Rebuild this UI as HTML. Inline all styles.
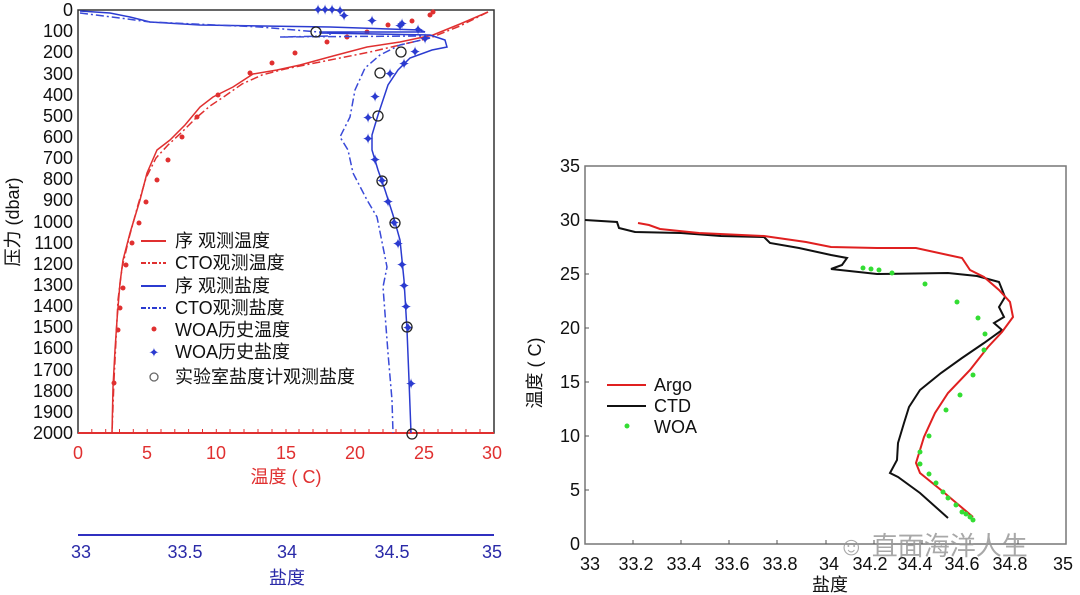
<!DOCTYPE html>
<html><head><meta charset="utf-8"><style>
body{margin:0;background:#fff;}
svg{display:block;font-family:"Liberation Sans","Noto Sans CJK SC",sans-serif;}
</style></head><body>
<svg width="1080" height="595" viewBox="0 0 1080 595" xmlns="http://www.w3.org/2000/svg">
<!-- LEFT PLOT -->
<rect x="78" y="10" width="416" height="423" fill="none" stroke="#333" stroke-width="1.5"/>
<line x1="78" y1="433" x2="494" y2="433" stroke="#e03030" stroke-width="2"/>
<g stroke="#e03030" stroke-width="1">
<line x1="91.8" y1="433" x2="91.8" y2="429"/><line x1="105.7" y1="433" x2="105.7" y2="429"/><line x1="119.5" y1="433" x2="119.5" y2="429"/><line x1="133.3" y1="433" x2="133.3" y2="429"/><line x1="147.2" y1="433" x2="147.2" y2="429"/><line x1="161" y1="433" x2="161" y2="429"/><line x1="174.8" y1="433" x2="174.8" y2="429"/><line x1="188.6" y1="433" x2="188.6" y2="429"/><line x1="202.5" y1="433" x2="202.5" y2="429"/><line x1="216.3" y1="433" x2="216.3" y2="429"/><line x1="230" y1="433" x2="230" y2="429"/><line x1="244" y1="433" x2="244" y2="429"/><line x1="258" y1="433" x2="258" y2="429"/><line x1="272" y1="433" x2="272" y2="429"/><line x1="286" y1="433" x2="286" y2="429"/><line x1="299" y1="433" x2="299" y2="429"/><line x1="313" y1="433" x2="313" y2="429"/><line x1="327" y1="433" x2="327" y2="429"/><line x1="341" y1="433" x2="341" y2="429"/><line x1="355" y1="433" x2="355" y2="429"/><line x1="369" y1="433" x2="369" y2="429"/><line x1="383" y1="433" x2="383" y2="429"/><line x1="396" y1="433" x2="396" y2="429"/><line x1="410" y1="433" x2="410" y2="429"/><line x1="424" y1="433" x2="424" y2="429"/><line x1="438" y1="433" x2="438" y2="429"/><line x1="452" y1="433" x2="452" y2="429"/><line x1="466" y1="433" x2="466" y2="429"/><line x1="480" y1="433" x2="480" y2="429"/>
</g>
<g font-size="18" fill="#111" text-anchor="end">
<text x="73" y="16">0</text><text x="73" y="37">100</text><text x="73" y="58">200</text><text x="73" y="80">300</text><text x="73" y="101">400</text><text x="73" y="122">500</text><text x="73" y="143">600</text><text x="73" y="164">700</text><text x="73" y="185">800</text><text x="73" y="206">900</text><text x="73" y="228">1000</text><text x="73" y="249">1100</text><text x="73" y="270">1200</text><text x="73" y="291">1300</text><text x="73" y="312">1400</text><text x="73" y="333">1500</text><text x="73" y="354">1600</text><text x="73" y="376">1700</text><text x="73" y="397">1800</text><text x="73" y="418">1900</text><text x="73" y="439">2000</text>
</g>
<text transform="translate(19,222) rotate(-90)" font-size="18" fill="#111" text-anchor="middle">压力 (dbar)</text>
<g font-size="18" fill="#e03030" text-anchor="middle">
<text x="78" y="459">0</text><text x="147" y="459">5</text><text x="216" y="459">10</text><text x="286" y="459">15</text><text x="355" y="459">20</text><text x="424" y="459">25</text><text x="492" y="459">30</text>
<text x="286" y="483">温度 ( C)</text>
</g>
<!-- salinity axis -->
<line x1="78" y1="535" x2="494" y2="535" stroke="#3030c0" stroke-width="2"/>
<g font-size="18" fill="#2a2aa8" text-anchor="middle">
<text x="81" y="558">33</text><text x="185" y="558">33.5</text><text x="287" y="558">34</text><text x="392" y="558">34.5</text><text x="492" y="558">35</text>
<text x="287" y="584">盐度</text>
</g>
<!-- temperature curves -->
<polyline fill="none" stroke="#e03030" stroke-width="1.5" points="488,12 460,24 433,35 400,42 367,47 333,56 300,65 277,70 253,74 233,87 213,97 200,107 185,125 170,140 157,150 147,173 140,200 130,233 123,260 120,283 117,320 115,350 113,387 112,433"/>
<polyline fill="none" stroke="#e03030" stroke-width="1.5" stroke-dasharray="8,3,2,3" points="488,12 460,26 430,38 400,45 370,52 340,58 310,64 285,69 262,75 242,84 225,96 210,106 196,118 182,132 168,145 156,158 146,178 138,205 129,238 122,268 118,300 116,340 114,380 112,433"/>
<g fill="#e03030">
<circle cx="433" cy="12" r="2.5"/><circle cx="430" cy="15" r="2.5"/><circle cx="412" cy="21" r="2.5"/><circle cx="388" cy="25" r="2.5"/><circle cx="367" cy="32" r="2.5"/><circle cx="347" cy="37" r="2.5"/><circle cx="327" cy="42" r="2.5"/><circle cx="295" cy="53" r="2.5"/><circle cx="272" cy="63" r="2.5"/><circle cx="250" cy="73" r="2.5"/><circle cx="218" cy="95" r="2.5"/><circle cx="197" cy="117" r="2.5"/><circle cx="182" cy="137" r="2.5"/><circle cx="168" cy="160" r="2.5"/><circle cx="157" cy="180" r="2.5"/><circle cx="146" cy="202" r="2.5"/><circle cx="139" cy="223" r="2.5"/><circle cx="132" cy="243" r="2.5"/><circle cx="126" cy="265" r="2.5"/><circle cx="123" cy="288" r="2.5"/><circle cx="120" cy="308" r="2.5"/><circle cx="118" cy="330" r="2.5"/><circle cx="114" cy="383" r="2.5"/>
</g>
<!-- salinity curves -->
<polyline fill="none" stroke="#2b3bd0" stroke-width="1.5" points="80,11 110,13 130,17 150,22 200,25 330,27 420,30 425,32 320,32 320,33 430,35 445,40 447,47 432,50 410,58 398,70 388,85 383,100 378,115 372,135 372,150 378,170 385,190 393,215 400,240 404,280 407,330 409,380 411,433"/>
<polyline fill="none" stroke="#3a4ad8" stroke-width="1.5" stroke-dasharray="8,3,2,3" points="80,13 120,18 150,22 260,27 330,33 330,36 280,37 420,36 430,38 400,45 380,55 365,68 355,90 350,117 340,137 348,150 353,173 367,200 377,217 387,267 383,287 388,353 392,400 393,433"/>
<g fill="#2b3bd0" font-size="15" text-anchor="middle">
<text x="318" y="15">✦</text><text x="325" y="15">✦</text><text x="332" y="15">✦</text><text x="340" y="16">✦</text><text x="344" y="21">✦</text><text x="372" y="26">✦</text><text x="402" y="29">✦</text><text x="400" y="31">✦</text><text x="418" y="35">✦</text><text x="425" y="44">✦</text><text x="415" y="57">✦</text><text x="404" y="69">✦</text><text x="390" y="79">✦</text><text x="375" y="102">✦</text><text x="368" y="123">✦</text><text x="368" y="144">✦</text><text x="375" y="165">✦</text><text x="382" y="186">✦</text><text x="388" y="207">✦</text><text x="394" y="228">✦</text><text x="398" y="249">✦</text><text x="402" y="270">✦</text><text x="404" y="291">✦</text><text x="406" y="312">✦</text><text x="408" y="333">✦</text><text x="411" y="389">✦</text>
</g>
<g fill="none" stroke="#222" stroke-width="1.3">
<circle cx="316" cy="32" r="5"/><circle cx="401" cy="52" r="5"/><circle cx="380" cy="73" r="5"/><circle cx="378" cy="116" r="5"/><circle cx="382" cy="181" r="5"/><circle cx="395" cy="223" r="5"/><circle cx="407" cy="327" r="5"/><circle cx="412" cy="434" r="5"/>
</g>
<!-- left legend -->
<g font-size="18" fill="#111">
<line x1="141" y1="241" x2="166" y2="241" stroke="#e03030" stroke-width="2"/><text x="175" y="247">序  观测温度</text>
<line x1="141" y1="263" x2="166" y2="263" stroke="#e03030" stroke-width="2" stroke-dasharray="5,2,2,2"/><text x="175" y="269">CTO观测温度</text>
<line x1="141" y1="286" x2="166" y2="286" stroke="#2b3bd0" stroke-width="2"/><text x="175" y="292">序  观测盐度</text>
<line x1="141" y1="308" x2="166" y2="308" stroke="#2b3bd0" stroke-width="2" stroke-dasharray="5,2,2,2"/><text x="175" y="314">CTO观测盐度</text>
<circle cx="154" cy="329" r="2.5" fill="#e03030"/><text x="175" y="336">WOA历史温度</text>
<text x="154" y="357" fill="#2b3bd0" font-size="13" text-anchor="middle">✦</text><text x="175" y="358">WOA历史盐度</text>
<circle cx="154" cy="377" r="4" fill="none" stroke="#666" stroke-width="1.3"/><text x="175" y="383">实验室盐度计观测盐度</text>
</g>

<!-- RIGHT PLOT -->
<rect x="585" y="166" width="481" height="378" fill="none" stroke="#777" stroke-width="1.5"/>
<g stroke="#555" stroke-width="1">
<line x1="633" y1="544" x2="633" y2="540"/><line x1="681" y1="544" x2="681" y2="540"/><line x1="729" y1="544" x2="729" y2="540"/><line x1="777" y1="544" x2="777" y2="540"/><line x1="826" y1="544" x2="826" y2="540"/><line x1="874" y1="544" x2="874" y2="540"/><line x1="922" y1="544" x2="922" y2="540"/><line x1="970" y1="544" x2="970" y2="540"/><line x1="1018" y1="544" x2="1018" y2="540"/>
<line x1="585" y1="490" x2="589" y2="490"/><line x1="585" y1="436" x2="589" y2="436"/><line x1="585" y1="382" x2="589" y2="382"/><line x1="585" y1="328" x2="589" y2="328"/><line x1="585" y1="274" x2="589" y2="274"/><line x1="585" y1="220" x2="589" y2="220"/>
</g>
<g font-size="18" fill="#111" text-anchor="end">
<text x="580" y="550">0</text><text x="580" y="496">5</text><text x="580" y="442">10</text><text x="580" y="388">15</text><text x="580" y="334">20</text><text x="580" y="280">25</text><text x="580" y="226">30</text><text x="580" y="172">35</text>
</g>
<g font-size="18" fill="#111" text-anchor="middle">
<text x="590" y="570">33</text><text x="636" y="570">33.2</text><text x="684" y="570">33.4</text><text x="732" y="570">33.6</text><text x="780" y="570">33.8</text><text x="829" y="570">34</text><text x="870" y="570">34.2</text><text x="915" y="570">34.4</text><text x="962" y="570">34.6</text><text x="1010" y="570">34.8</text><text x="1063" y="570">35</text>
<text x="830" y="591">盐度</text>
</g>
<text transform="translate(541,373) rotate(-90)" font-size="18" fill="#111" text-anchor="middle">温度 ( C)</text>
<!-- CTD -->
<polyline fill="none" stroke="#111" stroke-width="2" points="585,220 617,222 619,228 635,232 681,233 721,236 764,237 770,243 799,248 831,255 847,258 842,265 831,269 877,274 948,273 977,276 999,282 1005,297 999,307 1004,317 994,323 1002,330 984,343 962,358 941,373 920,390 909,407 904,423 898,443 897,460 890,473 898,477 920,493 948,518"/>
<!-- Argo -->
<polyline fill="none" stroke="#e02020" stroke-width="2" points="638,223 649,225 660,229 699,233 764,236 806,242 831,247 877,248 916,248 948,255 962,258 970,270 984,277 999,290 1010,302 1013,317 1002,332 988,347 970,370 948,393 935,413 924,437 916,463 920,473 941,490 973,517"/>
<!-- WOA -->
<g fill="#33dd33">
<circle cx="863" cy="268" r="2.5"/><circle cx="871" cy="269" r="2.5"/><circle cx="879" cy="270" r="2.5"/><circle cx="892" cy="273" r="2.5"/><circle cx="925" cy="284" r="2.5"/><circle cx="957" cy="302" r="2.5"/><circle cx="978" cy="318" r="2.5"/><circle cx="985" cy="334" r="2.5"/><circle cx="984" cy="350" r="2.5"/><circle cx="973" cy="375" r="2.5"/><circle cx="960" cy="395" r="2.5"/><circle cx="946" cy="410" r="2.5"/><circle cx="929" cy="436" r="2.5"/><circle cx="920" cy="452" r="2.5"/><circle cx="920" cy="464" r="2.5"/><circle cx="929" cy="474" r="2.5"/><circle cx="936" cy="483" r="2.5"/><circle cx="943" cy="492" r="2.5"/><circle cx="948" cy="498" r="2.5"/><circle cx="956" cy="505" r="2.5"/><circle cx="962" cy="512" r="2.5"/><circle cx="970" cy="517" r="2.5"/><circle cx="973" cy="520" r="2.5"/><circle cx="966" cy="514" r="2.5"/>
</g>
<!-- right legend -->
<g font-size="18" fill="#111">
<line x1="607" y1="385" x2="646" y2="385" stroke="#e02020" stroke-width="2"/><text x="654" y="391">Argo</text>
<line x1="607" y1="406" x2="646" y2="406" stroke="#111" stroke-width="2"/><text x="654" y="412">CTD</text>
<circle cx="627" cy="426" r="2.5" fill="#33dd33"/><text x="654" y="433">WOA</text>
</g>
<!-- watermark -->
<text x="838" y="555" font-size="26" fill="#999" opacity="0.85">☺ 直面海洋人生</text>
</svg>
</body></html>
